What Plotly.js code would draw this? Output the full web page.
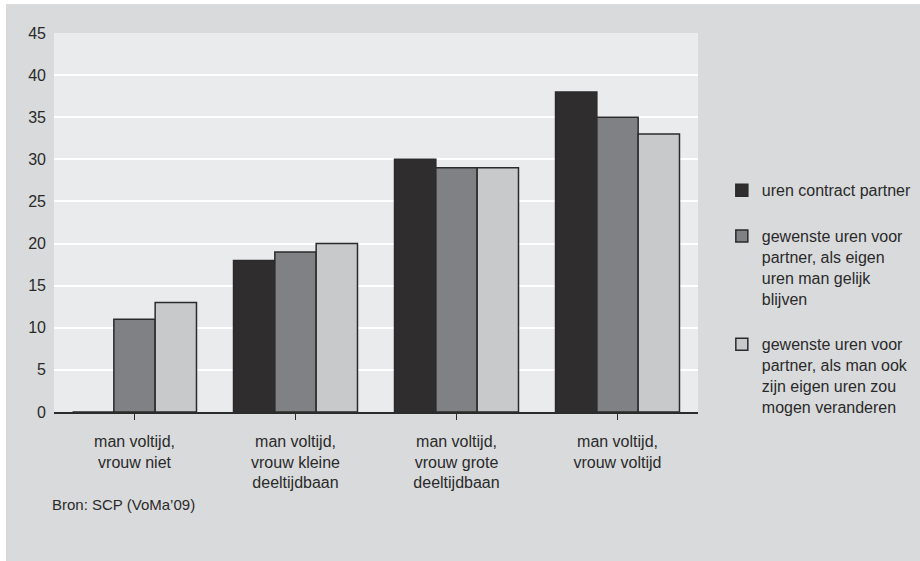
<!DOCTYPE html>
<html>
<head>
<meta charset="utf-8">
<script src="https://cdn.plot.ly/plotly-3.0.1.min.js"></script>
<style>
html,body{margin:0;padding:0;background:#ffffff;}
#chart{position:absolute;left:6px;top:4px;width:914px;height:557px;}
</style>
</head>
<body>
<div id="chart"></div>
<script>
const categories = [
  "man voltijd,<br>vrouw niet",
  "man voltijd,<br>vrouw kleine<br>deeltijdbaan",
  "man voltijd,<br>vrouw grote<br>deeltijdbaan",
  "man voltijd,<br>vrouw voltijd"
];
const seriesNames = [
  "uren contract partner",
  "gewenste uren voor<br>partner, als eigen<br>uren man gelijk<br>blijven",
  "gewenste uren voor<br>partner, als man ook<br>zijn eigen uren zou<br>mogen veranderen"
];
const urenContract = [0, 18, 30, 38];
const gewenstGelijk = [11, 19, 29, 35];
const gewenstVeranderen = [13, 20, 29, 33];
const yTicks = [0, 5, 10, 15, 20, 25, 30, 35, 40, 45];
const sourceText = "Bron: SCP (VoMa’09)";

const colors = ["#2f2d2e", "#808185", "#c8c9cb"];
const FONT = "'Liberation Sans Narrow', 'Arial Narrow', 'Liberation Sans', sans-serif";
const values = [urenContract, gewenstGelijk, gewenstVeranderen];

const traces = values.map((v, i) => ({
  type: "bar",
  name: seriesNames[i],
  x: categories,
  y: v,
  legendgroup: "g" + i,
  marker: {color: colors[i], line: {color: "#2b2b2b", width: 1.5}},
  hoverinfo: "none"
}));

const layout = {
  width: 914,
  height: 557,
  paper_bgcolor: "#d9dadc",
  plot_bgcolor: "#eaebed",
  margin: {l: 48, r: 222, t: 29, b: 149, autoexpand: false},
  barmode: "group",
  bargap: 0.23,
  bargroupgap: 0,
  font: {family: FONT, size: 16, color: "#2a2a2a"},
  xaxis: {
    type: "category",
    showline: true,
    linecolor: "#2b2b2b",
    linewidth: 1.5,
    ticks: "outside",
    ticklen: 6,
    tickwidth: 1.5,
    tickcolor: "#2b2b2b",
    showgrid: false,
    ticklabelstandoff: 8,
    tickfont: {family: FONT, size: 16, color: "#2a2a2a"},
    automargin: false,
    fixedrange: true
  },
  yaxis: {
    range: [0, 45],
    tickvals: yTicks,
    showgrid: true,
    gridcolor: "#ffffff",
    gridwidth: 2,
    zeroline: false,
    showline: false,
    ticks: "",
    ticklabelstandoff: 7,
    automargin: false,
    tickfont: {family: "'Liberation Sans', Arial, sans-serif", size: 16, color: "#2a2a2a"},
    fixedrange: true
  },
  showlegend: true,
  legend: {
    x: 1.037,
    xanchor: "left",
    y: 0.63,
    yanchor: "top",
    bgcolor: "rgba(0,0,0,0)",
    font: {family: FONT, size: 16, color: "#2a2a2a"},
    tracegroupgap: 22,
    traceorder: "grouped",
    valign: "top"
  },
  annotations: [{
    text: sourceText,
    xref: "paper", yref: "paper",
    x: -0.006, y: -0.245,
    xanchor: "left", yanchor: "middle",
    showarrow: false,
    font: {family: FONT, size: 15, color: "#2a2a2a"}
  }]
};

Plotly.newPlot("chart", traces, layout, {displayModeBar: false, staticPlot: true});
</script>
</body>
</html>
